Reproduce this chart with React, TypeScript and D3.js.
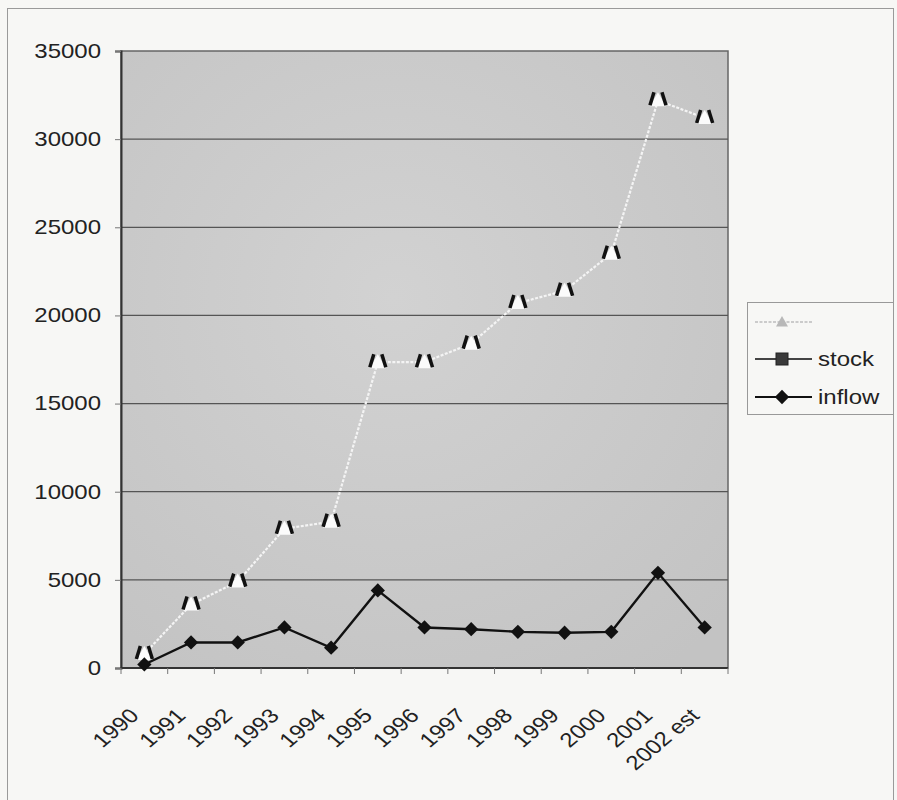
import React, { useRef, useEffect } from 'react';
import * as d3 from 'd3';

const categories = ['1990', '1991', '1992', '1993', '1994', '1995', '1996', '1997', '1998', '1999', '2000', '2001', '2002 est'];
const stock = [800, 3600, 4900, 7900, 8300, 17350, 17350, 18400, 20700, 21400, 23500, 32200, 31200];
const inflow = [200, 1450, 1450, 2300, 1150, 4400, 2300, 2200, 2050, 2000, 2050, 5400, 2300];
const yTicks = [0, 5000, 10000, 15000, 20000, 25000, 30000, 35000];
const legendLabels = ['', 'stock', 'inflow'];

const FONT = '"Liberation Sans", Arial, sans-serif';

const App: React.FC = () => {
  const svgRef = useRef<SVGSVGElement>(null);

  useEffect(() => {
    if (!svgRef.current) return;
    const width = 897;
    const height = 800;
    const plot = { left: 121, right: 728, top: 51, bottom: 668 };

    const svg = d3.select(svgRef.current);
    svg.selectAll('*').remove();

    svg.append('rect').attr('width', width).attr('height', height).attr('fill', '#f7f7f5');

    // outer chart frame
    svg.append('rect')
      .attr('x', 7.5).attr('y', 8.5)
      .attr('width', 886).attr('height', 820)
      .attr('fill', 'none')
      .attr('stroke', '#9a9a9a')
      .attr('stroke-width', 1);

    const defs = svg.append('defs');
    const grad = defs.append('radialGradient').attr('id', 'plotbg')
      .attr('cx', '45%').attr('cy', '40%').attr('r', '75%');
    grad.append('stop').attr('offset', '0%').attr('stop-color', '#d2d2d2');
    grad.append('stop').attr('offset', '100%').attr('stop-color', '#c3c3c3');

    const x = d3.scaleBand<string>().domain(categories).range([plot.left, plot.right]);
    const y = d3.scaleLinear().domain([0, 35000]).range([plot.bottom, plot.top]);
    const cx = (c: string) => (x(c) as number) + x.bandwidth() / 2;

    svg.append('rect')
      .attr('x', plot.left).attr('y', plot.top)
      .attr('width', plot.right - plot.left).attr('height', plot.bottom - plot.top)
      .attr('fill', 'url(#plotbg)')
      .attr('stroke', '#666')
      .attr('stroke-width', 1.5);

    // gridlines
    svg.append('g').selectAll('line')
      .data(yTicks.slice(1, -1))
      .enter().append('line')
      .attr('x1', plot.left).attr('x2', plot.right)
      .attr('y1', d => y(d)).attr('y2', d => y(d))
      .attr('stroke', '#555').attr('stroke-width', 1.2);

    // y axis
    const yAxis = d3.axisLeft(y).tickValues(yTicks).tickSize(6).tickPadding(14).tickFormat(d3.format('d'));
    const gy = svg.append('g').attr('transform', `translate(${plot.left},0)`).call(yAxis);
    gy.select('.domain').attr('stroke', '#333').attr('stroke-width', 2);
    gy.selectAll('.tick line').attr('stroke', '#777');
    gy.selectAll('.tick text')
      .attr('font-family', FONT).attr('font-size', 20).attr('fill', '#222')
      .attr('transform', function () {
        const t = d3.select(this);
        const tx = +t.attr('x');
        return `translate(${tx},0) scale(1.2,1) translate(${-tx},0)`;
      });

    // x axis
    const gx = svg.append('g').attr('transform', `translate(0,${plot.bottom})`);
    gx.append('line').attr('x1', plot.left).attr('x2', plot.right).attr('stroke', '#333').attr('stroke-width', 2);
    const boundaries = categories.map(c => x(c) as number).concat([plot.right]);
    gx.selectAll('line.tk').data(boundaries).enter().append('line')
      .attr('class', 'tk')
      .attr('x1', d => d).attr('x2', d => d).attr('y1', 0).attr('y2', 6)
      .attr('stroke', '#777');
    gx.selectAll('text').data(categories).enter().append('text')
      .attr('font-family', FONT).attr('font-size', 20).attr('fill', '#222')
      .attr('text-anchor', 'end')
      .attr('dy', '0.35em')
      .attr('transform', d => `translate(${cx(d) - 10},${44}) scale(1.2,1) rotate(-45)`)
      .text(d => d);

    // stock line (light)
    const line = d3.line<number>().x((_, i) => cx(categories[i])).y(d => y(d));
    svg.append('path').datum(stock)
      .attr('d', line)
      .attr('fill', 'none')
      .attr('stroke', '#f4f4f4')
      .attr('stroke-width', 2.2)
      .attr('stroke-dasharray', '3,1.5');

    const tri = (g: d3.Selection<SVGGElement, unknown, null, undefined>, px: number, py: number, light: boolean) => {
      const s = light ? 0.75 : 1;
      const pts: [number, number][] = [[px, py - 8 * s], [px + 8 * s, py + 6 * s], [px - 8 * s, py + 6 * s]];
      g.append('polygon')
        .attr('points', pts.map(p => p.join(',')).join(' '))
        .attr('fill', light ? '#b8b8b8' : '#fbfbfb');
      if (!light) {
        g.append('path')
          .attr('d', `M${px - 4},${py - 8} L${px - 8},${py + 5}`)
          .attr('stroke', '#111').attr('stroke-width', 3.5).attr('fill', 'none');
        g.append('path')
          .attr('d', `M${px + 4},${py - 8} L${px + 8},${py + 5}`)
          .attr('stroke', '#111').attr('stroke-width', 3.5).attr('fill', 'none');
      }
    };

    const stockG = svg.append('g');
    stock.forEach((v, i) => tri(stockG as any, cx(categories[i]), y(v), false));

    // inflow line
    svg.append('path').datum(inflow)
      .attr('d', line)
      .attr('fill', 'none')
      .attr('stroke', '#111')
      .attr('stroke-width', 2.4);
    const diamond = d3.symbol().type(d3.symbolDiamond2).size(130);
    svg.append('g').selectAll('path')
      .data(inflow).enter().append('path')
      .attr('d', diamond)
      .attr('transform', (d, i) => `translate(${cx(categories[i])},${y(d)})`)
      .attr('fill', '#111');

    // legend
    const lg = svg.append('g');
    lg.append('rect')
      .attr('x', 747.5).attr('y', 302.5).attr('width', 146).attr('height', 112)
      .attr('fill', '#f7f7f5').attr('stroke', '#999').attr('stroke-width', 1);
    const rowY = [322, 359, 397];
    const lineColors = ['#bdbdbd', '#444', '#111'];
    legendLabels.forEach((lab, i) => {
      const ry = rowY[i];
      lg.append('line').attr('x1', 755).attr('x2', 812).attr('y1', ry).attr('y2', ry)
        .attr('stroke', lineColors[i]).attr('stroke-width', i === 0 ? 1.5 : 2.2)
        .attr('stroke-dasharray', i === 0 ? '3,1.5' : null);
      if (i === 0) tri(lg as any, 782, ry, true);
      if (i === 1) lg.append('rect').attr('x', 776).attr('y', ry - 6).attr('width', 12).attr('height', 12)
        .attr('fill', '#3a3a3a').attr('stroke', '#222');
      if (i === 2) lg.append('path').attr('d', diamond).attr('transform', `translate(782,${ry})`).attr('fill', '#111');
      if (lab) {
        lg.append('text')
          .attr('font-family', FONT).attr('font-size', 20).attr('fill', '#222')
          .attr('dy', '0.35em')
          .attr('transform', `translate(818,${ry}) scale(1.2,1)`)
          .text(lab);
      }
    });
  }, []);

  return (
    <svg ref={svgRef} width={897} height={800} style={{ position: 'absolute', left: 0, top: 0 }} />
  );
};

export default App;
